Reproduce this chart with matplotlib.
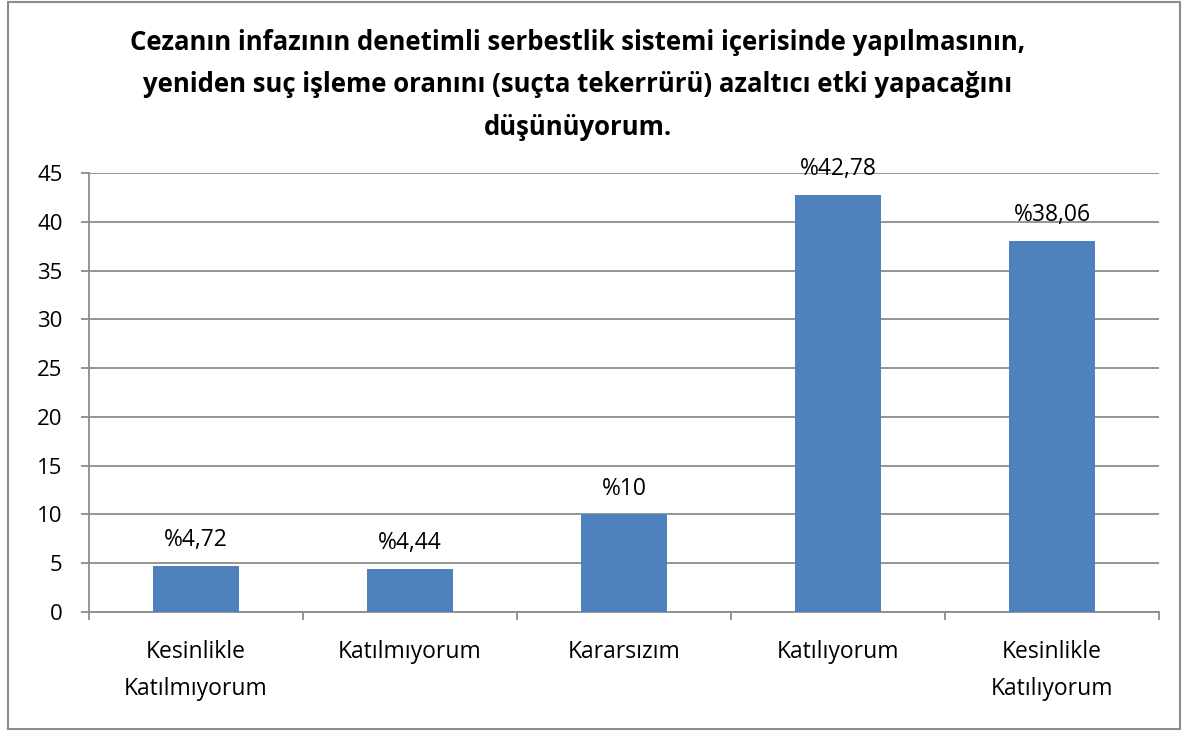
import matplotlib
matplotlib.use('Agg')
import matplotlib.pyplot as plt
from matplotlib.patches import Rectangle

categories = ['Kesinlikle\nKatılmıyorum', 'Katılmıyorum', 'Kararsızım',
              'Katılıyorum', 'Kesinlikle\nKatılıyorum']
values = [4.72, 4.44, 10, 42.78, 38.06]
labels = ['%4,72', '%4,44', '%10', '%42,78', '%38,06']
title = ('Cezanın infazının denetimli serbestlik sistemi içerisinde yapılmasının,\n'
         'yeniden suç işleme oranını (suçta tekerrürü) azaltıcı etki yapacağını\n'
         'düşünüyorum.')

plt.rcParams['font.family'] = ['Open Sans', 'DejaVu Sans']

fig = plt.figure(figsize=(11.84, 7.31), dpi=100)
ax = fig.add_axes([89 / 1184, 119 / 731, 1070 / 1184, 439 / 731])

grid_color = '#8c8c8c'
bar_color = '#4f81bd'

x = list(range(len(categories)))
bars = ax.bar(x, values, width=0.4, color=bar_color, zorder=3)

ax.set_xlim(-0.5, len(categories) - 0.5)
ax.set_ylim(0, 45)
ax.set_yticks(range(0, 46, 5))
ax.yaxis.grid(True, color=grid_color, linewidth=1.3, zorder=0)

for s in ['top', 'right']:
    ax.spines[s].set_visible(False)
for s in ['left', 'bottom']:
    ax.spines[s].set_color(grid_color)
    ax.spines[s].set_linewidth(1.3)

ax.set_xticks([i - 0.5 for i in range(len(categories) + 1)], minor=False)
ax.set_xticklabels([])
ax.set_xticks(x, minor=True)
ax.set_xticklabels(categories, minor=True, fontsize=16.5, linespacing=1.75)
ax.tick_params(axis='x', which='major', length=6, color=grid_color, width=1.3)
ax.tick_params(axis='x', which='minor', length=0, pad=20)
ax.tick_params(axis='y', length=6, color=grid_color, width=1.3, labelsize=16, pad=13)

for b, lab in zip(bars, labels):
    ax.annotate(lab, (b.get_x() + b.get_width() / 2, b.get_height()),
                xytext=(0, 10), textcoords='offset points',
                ha='center', va='bottom', fontsize=16.5)

fig.text(0.488, 1 - 85 / 731, title, ha='center', va='center', fontsize=18.5,
         fontweight='bold', linespacing=1.72)

fig.patches.append(Rectangle((8 / 1184, 2 / 731), 1172 / 1184, 727 / 731,
                             transform=fig.transFigure, fill=False,
                             edgecolor='#8c8c8c', linewidth=1.5))

fig.savefig('out.png', dpi=100)
